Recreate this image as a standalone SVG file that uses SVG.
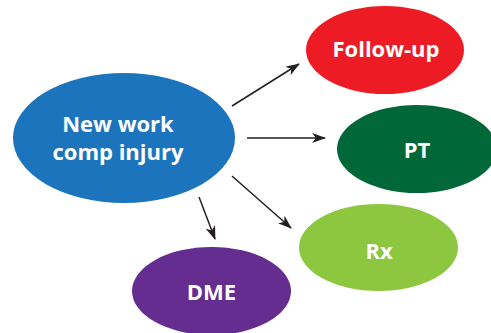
<svg xmlns="http://www.w3.org/2000/svg" width="491" height="333" viewBox="0 0 491 333">
<style>
.lbl{font-family:"Open Sans","Noto Sans","Liberation Sans",sans-serif;font-weight:bold;fill:#ffffff;text-anchor:middle;font-size:22px}
.conn{stroke:#231f20;stroke-width:1.5;fill:none;marker-end:url(#ah)}
</style>
<defs>
<marker id="ah" markerWidth="14" markerHeight="10" refX="13" refY="5" orient="auto" markerUnits="userSpaceOnUse">
<path d="M0,0 L14,5 L0,10 L4,5 z" fill="#231f20"/>
</marker>
</defs>
<rect width="491" height="333" fill="#ffffff"/>
<g id="injury">
<ellipse cx="124" cy="138" rx="111" ry="65" fill="#1c75bc"/>
<text class="lbl" x="118" y="132">New work</text>
<text class="lbl" x="118" y="160">comp injury</text>
</g>
<g id="followup">
<ellipse cx="385" cy="50" rx="79" ry="44" fill="#ed1c24"/>
<text class="lbl" x="386" y="57">Follow-up</text>
</g>
<g id="pt">
<ellipse cx="417" cy="149" rx="80" ry="44" fill="#006838"/>
<text class="lbl" x="417" y="158">PT</text>
</g>
<g id="rx">
<ellipse cx="378.5" cy="247.5" rx="79.5" ry="43.5" fill="#8dc63f"/>
<text class="lbl" x="379" y="259">Rx</text>
</g>
<g id="dme">
<ellipse cx="211.5" cy="291" rx="79.5" ry="44" fill="#662d91"/>
<text class="lbl" x="211.5" y="300">DME</text>
</g>
<g id="connectors">
<line class="conn" x1="232" y1="106" x2="299" y2="64"/>
<line class="conn" x1="247" y1="138" x2="325" y2="138"/>
<line class="conn" x1="232" y1="176" x2="291" y2="228"/>
<line class="conn" x1="199" y1="197" x2="215" y2="239"/>
</g>
</svg>
